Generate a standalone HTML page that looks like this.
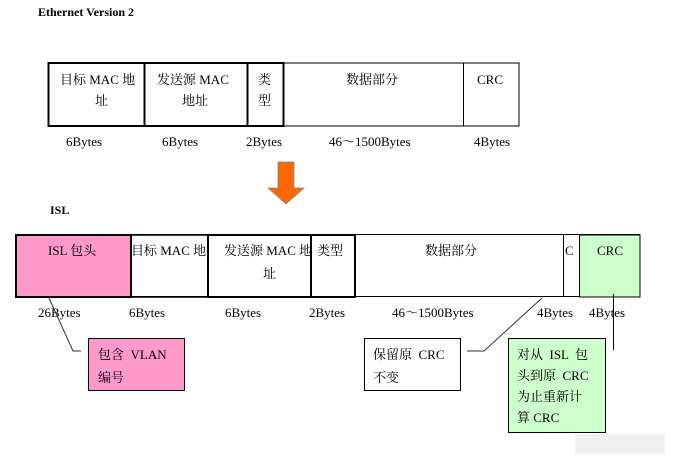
<!DOCTYPE html>
<html><head><meta charset="utf-8"><style>
body{margin:0;background:#fff;width:691px;height:469px;overflow:hidden}
svg text{font-family:"Liberation Serif","Noto Serif CJK SC","Noto Sans CJK SC",serif;font-size:13px;fill:#000;white-space:pre}
</style></head><body>
<svg width="691" height="469" viewBox="0 0 691 469" xmlns="http://www.w3.org/2000/svg">
<text x="38" y="16" font-weight="bold" style="font-size:12px">Ethernet Version 2</text>
<rect x="48" y="63" width="471" height="63" fill="#fff" stroke="#000" stroke-width="1"/>
<rect x="48.5" y="63" width="96" height="63" fill="none" stroke="#000" stroke-width="2"/>
<rect x="144.5" y="63" width="103" height="63" fill="none" stroke="#000" stroke-width="2"/>
<rect x="247.5" y="63" width="36" height="63" fill="none" stroke="#000" stroke-width="2"/>
<line x1="463.5" y1="63" x2="463.5" y2="126" stroke="#000"/>
<text x="60" y="84">目标 MAC 地</text><text x="95" y="105">址</text>
<text x="157" y="84">发送源 MAC</text><text x="182" y="105">地址</text>
<text x="258" y="84">类</text><text x="258" y="105">型</text>
<text x="346" y="84">数据部分</text>
<text x="477" y="84">CRC</text>
<text x="66" y="146">6Bytes</text><text x="162" y="146">6Bytes</text><text x="246" y="146">2Bytes</text>
<text x="329" y="146">46～1500Bytes</text><text x="474" y="146">4Bytes</text>
<polygon points="278,162 294,162 294,188 304,188 286,204 268,188 278,188" fill="#f60" stroke="#888" stroke-width="0.8"/>
<text x="50" y="214" font-weight="bold" style="font-size:12px">ISL</text>
<rect x="16" y="234.5" width="624" height="62" fill="#fff" stroke="#000"/>
<rect x="16" y="235" width="115" height="62" fill="#f9c" stroke="#000" stroke-width="2"/>
<rect x="131" y="235" width="77" height="62" fill="none" stroke="#000" stroke-width="1.5"/>
<rect x="208" y="235" width="103" height="62" fill="none" stroke="#000" stroke-width="2"/>
<rect x="311" y="235" width="44" height="62" fill="none" stroke="#000" stroke-width="2"/>
<line x1="563.5" y1="235" x2="563.5" y2="297" stroke="#000"/>
<rect x="579.5" y="235" width="60.5" height="62" fill="#cfc" stroke="#000"/>
<text x="48" y="255">ISL 包头</text>
<text x="131" y="255">目标 MAC 地</text>
<text x="224" y="255">发送源 MAC 地</text><text x="263" y="278">址</text>
<text x="317" y="255">类型</text>
<text x="425" y="255">数据部分</text>
<text x="565" y="255">C</text>
<text x="597" y="255">CRC</text>
<text x="38" y="317">26Bytes</text><text x="129" y="317">6Bytes</text><text x="225" y="317">6Bytes</text><text x="309" y="317">2Bytes</text>
<text x="392" y="317">46～1500Bytes</text><text x="537" y="317">4Bytes</text><text x="589" y="317">4Bytes</text>
<polyline points="49,298 73,351 81,351" fill="none" stroke="#333"/>
<rect x="88.5" y="338.5" width="96" height="52" fill="#f9c" stroke="#000"/>
<text x="98" y="359">包含  VLAN</text><text x="98" y="382">编号</text>
<polyline points="542,298 484,351 467,351" fill="none" stroke="#333"/>
<rect x="364.5" y="338.5" width="96" height="52" fill="#fff" stroke="#000"/>
<text x="373" y="359">保留原  CRC</text><text x="373" y="382">不变</text>
<line x1="613.5" y1="294" x2="613.5" y2="350" stroke="#000"/>
<rect x="508.5" y="338.5" width="97" height="94" fill="#cfc" stroke="#000"/>
<text x="517" y="359">对从  ISL  包</text><text x="517" y="380">头到原  CRC</text>
<text x="517" y="401">为止重新计</text><text x="517" y="422">算 CRC</text>
<rect x="575" y="434" width="90" height="20" fill="#f0f0f0"/>
</svg>
</body></html>
